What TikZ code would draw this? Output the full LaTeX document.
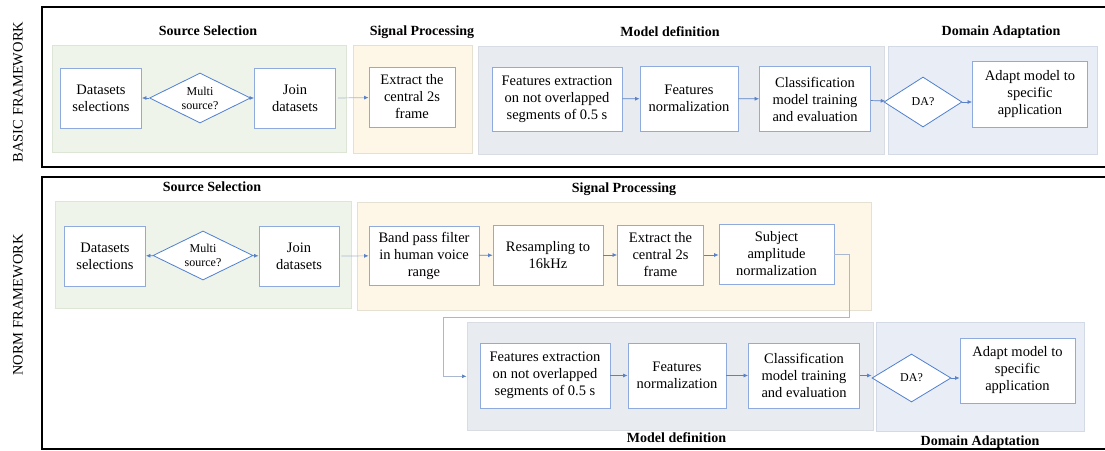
\documentclass[tikz,border=0pt]{standalone}
\usepackage{fontspec}
\setmainfont{Liberation Serif}
\usetikzlibrary{positioning}
\usetikzlibrary{shapes.geometric,arrows.meta}

\definecolor{bxline}{HTML}{8FAADC}
\definecolor{dmline}{HTML}{4F7FD0}
\definecolor{arline}{HTML}{5A82C8}
\definecolor{paline}{HTML}{A9B8CE}
\definecolor{ssfill}{HTML}{EEF4EA}
\definecolor{ssline}{HTML}{DDE6D6}
\definecolor{spfill}{HTML}{FEF6E6}
\definecolor{spline}{HTML}{E6E0D2}
\definecolor{mdfill}{HTML}{E8EBF0}
\definecolor{mdline}{HTML}{D9DCE3}
\definecolor{dafill}{HTML}{E9EEF6}
\definecolor{daline}{HTML}{D3DAE6}

\begin{document}
\begin{tikzpicture}[x=1pt,y=-1pt,
  box/.style={rectangle,draw=bxline,fill=white,line width=0.8pt,align=center,inner sep=0pt,font=\fontsize{14.5}{17}\selectfont},
  dmd/.style={diamond,draw=dmline,fill=white,line width=0.8pt,align=center,inner sep=0pt,aspect=2,font=\fontsize{12}{14}\selectfont},
  reg/.style={rectangle,anchor=north west,inner sep=0pt,line width=0.6pt},
  ttl/.style={font=\bfseries\fontsize{14}{16}\selectfont},
  side/.style={rotate=90,font=\fontsize{14.5}{17}\selectfont},
  arr/.style={-{Latex[length=4.5pt,width=4pt]},draw=arline,line width=0.7pt},
  parr/.style={-{Latex[length=4.5pt,width=4pt,color=arline]},draw=paline,line width=0.7pt}]
\useasboundingbox (0,0) rectangle (1105,450);

% basic framework
\draw[line width=1.6pt] (1110,7) -| (42,167) -- (1110,167);
\node[side] (lab1) at (18,92) {BASIC FRAMEWORK};

\node[reg,fill=ssfill,draw=ssline,minimum width=294pt,minimum height=107pt] (ss1) at (52,45) {};
\node[reg,fill=spfill,draw=spline,minimum width=119pt,minimum height=108pt] (sp1) at (353,45) {};
\node[reg,fill=mdfill,draw=mdline,minimum width=406pt,minimum height=108pt] (md1) at (478,46) {};
\node[reg,fill=dafill,draw=daline,minimum width=209pt,minimum height=108pt] (da1) at (888,46) {};
\node[ttl] (t1) at (208,31) {Source Selection};
\node[ttl] (t2) at (422,32) {Signal Processing};
\node[ttl] (t3) at (670,32) {Model definition};
\node[ttl] (t4) at (1001,32) {Domain Adaptation};

\node[box,minimum width=81pt,minimum height=60pt] (ds1) at (101,98) {Datasets\\selections};
\node[dmd,minimum width=101pt,minimum height=50pt] (ms1) at (200,98) {Multi\\source?};
\node[box,minimum width=81pt,minimum height=60pt] (jd1) at (295,98) {Join\\datasets};
\node[box,minimum width=86pt,minimum height=60pt] (ex1) at (412,97) {Extract the\\central 2s\\frame};
\node[box,minimum width=130pt,minimum height=64pt] (fe1) at (557,99) {Features extraction\\on not overlapped\\segments of 0.5 s};
\node[box,minimum width=98pt,minimum height=65pt] (fn1) at (689,98.5) {Features\\normalization};
\node[box,minimum width=111pt,minimum height=65pt] (cl1) at (815,99) {Classification\\model training\\and evaluation};
\node[dmd,minimum width=78pt,minimum height=50pt] (dq1) at (923,102) {DA?};
\node[box,minimum width=115pt,minimum height=66pt] (am1) at (1030,94) {Adapt model to\\specific\\application};

\draw[arr] (ms1) -- (ds1);
\draw[arr] (ms1) -- (jd1);
\draw[parr] (jd1.east) ++(2,0) -- (ex1);
\draw[arr] (fe1) -- (fn1);
\draw[arr] (fn1) -- (cl1);
\draw[arr] (cl1) -- (dq1);
\draw[arr] (dq1) -- (dq1 -| am1.west);

% norm framework
\draw[line width=1.6pt] (1110,177) -| (42,449) -- (1110,449);
\node[side] (lab2) at (18,305) {NORM FRAMEWORK};

\node[reg,fill=ssfill,draw=ssline,minimum width=296pt,minimum height=107pt] (ss2) at (55,201) {};
\node[reg,fill=spfill,draw=spline,minimum width=514pt,minimum height=108pt] (sp2) at (357,202) {};
\node[reg,fill=mdfill,draw=mdline,minimum width=406pt,minimum height=108pt] (md2) at (466.5,322) {};
\node[reg,fill=dafill,draw=daline,minimum width=208pt,minimum height=109pt] (da2) at (876,322) {};
\node[ttl] (t5) at (212,187) {Source Selection};
\node[ttl] (t6) at (624,189) {Signal Processing};
\node[ttl] (t7) at (676.5,438) {Model definition};
\node[ttl] (t8) at (980,442) {Domain Adaptation};

\node[box,minimum width=81pt,minimum height=60pt] (ds2) at (105,256) {Datasets\\selections};
\node[dmd,minimum width=100pt,minimum height=49pt] (ms2) at (203,255.5) {Multi\\source?};
\node[box,minimum width=80pt,minimum height=60pt] (jd2) at (299,256) {Join\\datasets};
\node[box,minimum width=110pt,minimum height=59pt] (bp2) at (424,255.5) {Band pass filter\\in human voice\\range};
\node[box,minimum width=110pt,minimum height=60pt] (rs2) at (548,255) {Resampling to\\16kHz};
\node[box,minimum width=86pt,minimum height=60pt] (ex2) at (660.5,255) {Extract the\\central 2s\\frame};
\node[box,minimum width=115pt,minimum height=60pt] (sa2) at (776.5,254) {Subject\\amplitude\\normalization};
\node[box,minimum width=130pt,minimum height=65pt] (fe2) at (545,375.5) {Features extraction\\on not overlapped\\segments of 0.5 s};
\node[box,minimum width=98pt,minimum height=65pt] (fn2) at (677,375.5) {Features\\normalization};
\node[box,minimum width=111pt,minimum height=65pt] (cl2) at (804,375.5) {Classification\\model training\\and evaluation};
\node[dmd,minimum width=79pt,minimum height=48pt] (dq2) at (911.5,378) {DA?};
\node[box,minimum width=115pt,minimum height=65pt] (am2) at (1017.5,370.5) {Adapt model to\\specific\\application};

\coordinate (k1) at (849,317);
\coordinate (k2) at (443,317);

\draw[arr] (ms2) -- (ds2);
\draw[arr] (ms2) -- (jd2);
\draw[parr] (jd2.east) ++(2,0) -- (bp2);
\draw[arr] (bp2) -- (rs2);
\draw[arr] (rs2) -- (ex2);
\draw[arr] (ex2) -- (ex2 -| sa2.west);
\draw[parr] (sa2.east) -| (k1) -- (k2) |- (md2.west);
\draw[arr] (fe2) -- (fn2);
\draw[arr] (fn2) -- (cl2);
\draw[arr] (cl2.east) -- (cl2.east -| dq2.west);
\draw[arr] (dq2) -- (dq2 -| am2.west);
\end{tikzpicture}
\end{document}
